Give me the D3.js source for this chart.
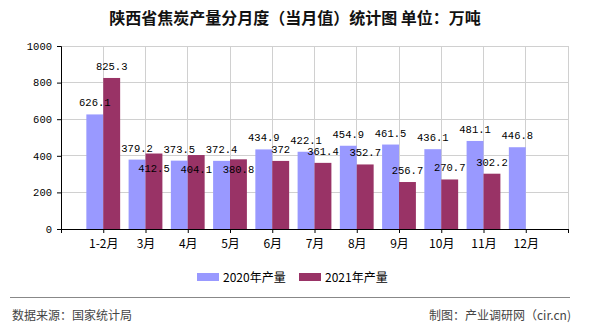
<!DOCTYPE html>
<html><head><meta charset="utf-8">
<script src="https://cdn.jsdelivr.net/npm/d3@7"></script>
<style>
html,body{margin:0;padding:0;background:#fff;}
svg{display:block;}
</style>
</head><body>
<svg id="chart" width="590" height="330"></svg>
<script>
const title = "陕西省焦炭产量分月度（当月值）统计图 单位：万吨";
const categories = ["1-2月","3月","4月","5月","6月","7月","8月","9月","10月","11月","12月"];
const series2020 = [626.1,379.2,373.5,372.4,434.9,422.1,454.9,461.5,436.1,481.1,446.8];
const series2021 = [825.3,412.5,404.1,380.8,372,361.4,352.7,256.7,270.7,302.2,null];
const seriesNames = ["2020年产量","2021年产量"];
const yTicks = [0,200,400,600,800,1000];
const sourceText = "数据来源：国家统计局";
const creditText = "制图：产业调研网（cir.cn)";

const colors = ["#9999FF","#993366"];
const monoFont = "'Liberation Mono','DejaVu Sans Mono',monospace";
const cjkFont = "'Noto Sans CJK SC','Noto Sans',sans-serif";

const svg = d3.select("#chart");
const L = 61, R = 568, T = 46, B = 229;
const x = d3.scaleLinear().domain([0, categories.length + 1]).range([L, R]);
const y = d3.scaleLinear().domain([0, 1000]).range([B, T]);
const step = x(1) - x(0);
const bw = step * 0.4;

// title
svg.append("text").attr("x", 295).attr("y", 24).attr("text-anchor", "middle")
  .attr("font-family", cjkFont).attr("font-size", 16).attr("font-weight", "bold")
  .attr("fill", "#111").text(title);

// grid
const grid = svg.append("g");
grid.selectAll("line.h").data(yTicks.filter(d => d > 0)).enter().append("line")
  .attr("x1", L).attr("x2", R).attr("y1", d => y(d)).attr("y2", d => y(d))
  .attr("stroke", "#d0d0d0").attr("stroke-width", 1).attr("shape-rendering", "crispEdges");
const vpos = d3.range(1, categories.length + 2);
grid.selectAll("line.v").data(vpos).enter().append("line")
  .attr("x1", d => x(d)).attr("x2", d => x(d)).attr("y1", T).attr("y2", B)
  .attr("stroke", "#d0d0d0").attr("stroke-width", 1).attr("shape-rendering", "crispEdges");

// bars
const bars = svg.append("g");
categories.forEach((c, i) => {
  const cx = x(i + 1);
  if (series2020[i] != null) {
    bars.append("rect").attr("x", cx - bw).attr("width", bw)
      .attr("y", y(series2020[i])).attr("height", y(0) - y(series2020[i]))
      .attr("fill", colors[0]);
  }
  if (series2021[i] != null) {
    bars.append("rect").attr("x", cx).attr("width", bw)
      .attr("y", y(series2021[i])).attr("height", y(0) - y(series2021[i]))
      .attr("fill", colors[1]);
  }
});

// axes
const yAxis = d3.axisLeft(y).tickValues(yTicks).tickSize(4).tickPadding(5).tickFormat(d3.format("d"));
const gy = svg.append("g").attr("transform", `translate(${L},0)`).call(yAxis);
gy.select(".domain").attr("stroke", "#000");
gy.selectAll(".tick line").attr("stroke", "#000");
gy.selectAll("text").attr("font-family", monoFont).attr("font-size", 10.5).attr("fill", "#000");

const xAxis = d3.axisBottom(x).tickValues(d3.range(0, categories.length + 2)).tickSize(4).tickPadding(4)
  .tickFormat(d => (d >= 1 && d <= categories.length) ? categories[d - 1] : "");
const gx = svg.append("g").attr("transform", `translate(0,${B})`).call(xAxis);
gx.select(".domain").attr("stroke", "#000").attr("d", `M${L},0.5H${R}`);
gx.selectAll(".tick line").attr("stroke", "#000");
gx.selectAll("text").attr("font-family", cjkFont).attr("font-size", 12).attr("fill", "#000").attr("dy", "0.9em");

// labels
const lbl = svg.append("g").attr("font-family", monoFont).attr("font-size", 10.5).attr("fill", "#000").attr("text-anchor", "middle");
categories.forEach((c, i) => {
  const cx = x(i + 1);
  let y20 = null;
  if (series2020[i] != null) {
    y20 = y(series2020[i]) - 12;
    lbl.append("text").attr("x", cx - bw / 2).attr("y", y20 + 4).text(series2020[i]);
  }
  if (series2021[i] != null) {
    let y21 = y(series2021[i]) - 12;
    if (y20 != null && Math.abs(y21 - y20) < 10) y21 = y20 + 20;
    lbl.append("text").attr("x", cx + bw / 2).attr("y", y21 + 4).text(series2021[i]);
  }
});

// legend
const legendX = [197, 299];
const lg = svg.append("g");
seriesNames.forEach((n, i) => {
  lg.append("rect").attr("x", legendX[i]).attr("y", 273).attr("width", 22).attr("height", 8).attr("fill", colors[i]);
  lg.append("text").attr("x", legendX[i] + 26).attr("y", 281.5).attr("font-family", cjkFont)
    .attr("font-size", 12).attr("fill", "#000").text(n);
});

// footer
svg.append("line").attr("x1", 10).attr("x2", 570).attr("y1", 297.5).attr("y2", 297.5)
  .attr("stroke", "#888").attr("stroke-width", 1);
svg.append("text").attr("x", 12).attr("y", 320).attr("font-family", cjkFont).attr("font-size", 12)
  .attr("fill", "#444").text(sourceText);
svg.append("text").attr("x", 571).attr("y", 320).attr("text-anchor", "end").attr("font-family", cjkFont).attr("font-size", 12)
  .attr("fill", "#444").text(creditText);
</script>
</body></html>
